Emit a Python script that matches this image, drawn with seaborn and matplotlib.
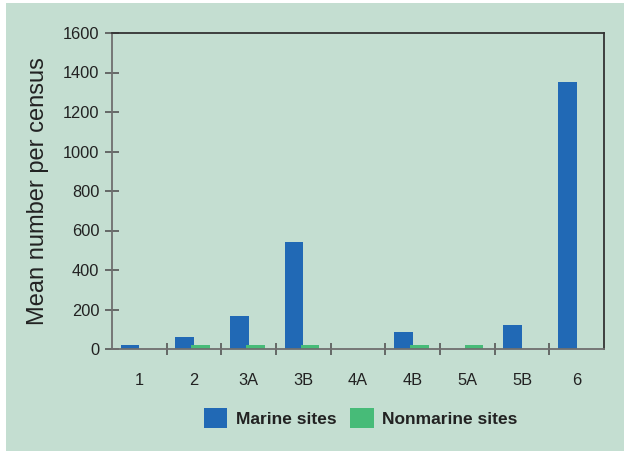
import matplotlib
matplotlib.use("Agg")
import matplotlib.pyplot as plt
from matplotlib.patches import Rectangle, Patch
from matplotlib.ticker import FixedLocator
import seaborn as sns
import pandas as pd

sites = ["1", "2", "3A", "3B", "4A", "4B", "5A", "5B", "6"]
marine = [20, 62, 167, 542, 0, 84, 0, 121, 1352]
nonmarine = [0, 20, 20, 20, 0, 20, 20, 0, 0]
series = ["Marine sites", "Nonmarine sites"]
yticks = [0, 200, 400, 600, 800, 1000, 1200, 1400, 1600]

BG = "#c4ded1"
BLUE = "#2169b5"
GREEN = "#47bb78"

df = pd.DataFrame({
    "site": sites * 2,
    "kind": [series[0]] * len(sites) + [series[1]] * len(sites),
    "value": marine + nonmarine,
})

sns.set_style("ticks")
plt.rcParams["font.family"] = ["Liberation Sans", "DejaVu Sans"]

fig = plt.figure(figsize=(6.24, 4.51), dpi=100)
fig.patch.set_facecolor("white")
fig.patches.append(Rectangle((6 / 624, 0), 1, 1 - 3 / 451, transform=fig.transFigure,
                             facecolor=BG, edgecolor="none", zorder=-10))

ax = fig.add_axes([112 / 624, 1 - 349 / 451, 492 / 624, 316 / 451])
ax.set_facecolor("none")

sns.barplot(data=df, x="site", y="value", hue="kind", order=sites, hue_order=series,
            palette=[BLUE, GREEN], width=0.68, linewidth=0, errorbar=None,
            saturation=1, legend=False, ax=ax)

# nudge green bars slightly toward their marine neighbours, as in reference
for p in ax.containers[1]:
    p.set_x(p.get_x() - 0.05)

ax.set_ylim(0, 1600)
ax.set_xlim(-0.5, len(sites) - 0.5)
ax.set_yticks(yticks)
ax.set_yticklabels([str(v) for v in yticks], fontsize=11.8, color="#222222")
ax.set_xticks(range(len(sites)))
ax.set_xticklabels(sites, fontsize=11.8, color="#222222")
ax.tick_params(axis="x", which="major", length=0, pad=17)
ax.xaxis.set_minor_locator(FixedLocator([i + 0.5 for i in range(len(sites) - 1)]))
ax.tick_params(axis="x", which="minor", direction="inout", length=9, width=1.2, color="#555555")
ax.tick_params(axis="y", which="major", direction="inout", length=10, width=1.2,
               color="#555555", pad=4)

ax.set_xlabel("")
ax.set_ylabel("Mean number per census", fontsize=17, color="#222222", labelpad=10)

for side in ["left", "bottom"]:
    ax.spines[side].set_color("#6f6f6f")
    ax.spines[side].set_linewidth(1.3)
for side in ["top", "right"]:
    ax.spines[side].set_visible(True)
    ax.spines[side].set_color("#333333")
    ax.spines[side].set_linewidth(1.3)

handles = [Patch(facecolor=BLUE, edgecolor="none"), Patch(facecolor=GREEN, edgecolor="none")]
leg = fig.legend(handles, series, loc="center", bbox_to_anchor=(0.578, 0.073), ncol=2,
                 frameon=False, prop={"weight": "bold", "size": 12.5},
                 handlelength=1.35, handleheight=1.35, handletextpad=0.5,
                 columnspacing=0.8)
for t in leg.get_texts():
    t.set_color("#222222")

fig.savefig("out.png", dpi=100, facecolor=fig.get_facecolor())
